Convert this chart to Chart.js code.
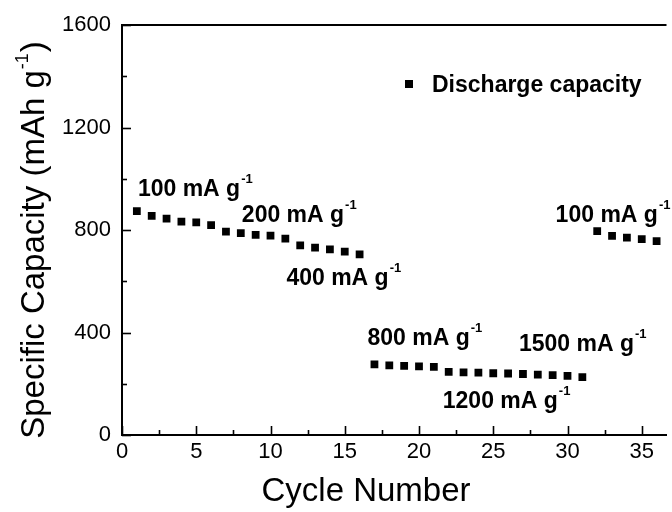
<!DOCTYPE html>
<html>
<head>
<meta charset="utf-8">
<script src="https://cdn.jsdelivr.net/npm/chart.js@4.4.1/dist/chart.umd.min.js"></script>
<style>
  html, body { margin: 0; padding: 0; background: #fff; overflow: hidden; }
  #wrap { width: 672px; height: 512px; }
</style>
</head>
<body>
<div id="wrap"><canvas id="rate" width="672" height="512"></canvas></div>
<script>
// cycle number and discharge capacity (mAh/g)
var cycles = [1, 2, 3, 4, 5, 6, 7, 8, 9, 10, 11, 12, 13, 14, 15, 16,
              17, 18, 19, 20, 21, 22, 23, 24, 25, 26, 27, 28, 29, 30, 31,
              32, 33, 34, 35, 36];
var capacity = [874, 855, 844, 833, 830, 819, 794, 788, 781, 778, 766, 740, 731, 724, 716, 705,
                276, 272, 270, 268, 266, 246, 244, 243, 241, 240, 238, 236, 234, 231, 226,
                796, 777, 770, 764, 757];
var xTicks = [0, 5, 10, 15, 20, 25, 30, 35];
var yTicks = [0, 400, 800, 1200, 1600];
var seriesName = "Discharge capacity";

// current-density labels: text, cycle/capacity anchor (left, baseline)
var rateLabels = ["100 mA g", "200 mA g", "400 mA g", "800 mA g", "1500 mA g", "1200 mA g", "100 mA g"];
var rateX = [1.07, 8.07, 11.07, 16.53, 26.73, 21.6, 29.2];
var rateY = [934, 830, 584, 351, 327, 105, 830];

var FONT = "'Liberation Sans', Arial, Helvetica, sans-serif";

var points = cycles.map(function (c, i) { return { x: c, y: capacity[i] }; });

var decor = {
  id: 'decor',
  afterDraw: function (chart) {
    var ctx = chart.ctx, a = chart.chartArea;
    var xs = chart.scales.x, ys = chart.scales.y;
    ctx.save();
    ctx.strokeStyle = '#000';
    ctx.lineWidth = 2;
    // top frame line
    ctx.beginPath();
    ctx.moveTo(a.left - 1, a.top);
    ctx.lineTo(a.right, a.top);
    ctx.stroke();
    // inward ticks, major + minor
    ctx.lineWidth = 1.6;
    for (var v = 0; v <= xs.max; v += 2.5) {
      var px = Math.round(xs.getPixelForValue(v)) + 0.5;
      var len = (v % 5 === 0) ? 9 : 5;
      ctx.beginPath();
      ctx.moveTo(px, a.bottom);
      ctx.lineTo(px, a.bottom - len);
      ctx.stroke();
    }
    for (var w = 0; w <= ys.max; w += 200) {
      var py = Math.round(ys.getPixelForValue(w)) + 0.5;
      var l2 = (w % 400 === 0) ? 9 : 5;
      ctx.beginPath();
      ctx.moveTo(a.left, py);
      ctx.lineTo(a.left + l2, py);
      ctx.stroke();
    }
    ctx.restore();

    // rate annotations with superscript -1
    ctx.save();
    ctx.fillStyle = '#000';
    ctx.textBaseline = 'alphabetic';
    ctx.textAlign = 'left';
    rateLabels.forEach(function (t, i) {
      var x = xs.getPixelForValue(rateX[i]);
      var y = ys.getPixelForValue(rateY[i]);
      ctx.font = 'bold 23px ' + FONT;
      ctx.fillText(t, x, y);
      var wdt = ctx.measureText(t).width;
      ctx.font = 'bold 13px ' + FONT;
      ctx.fillText('-1', x + wdt + 1, y - 13);
    });

    // legend
    ctx.fillRect(405, 80, 8, 8);
    ctx.font = 'bold 23px ' + FONT;
    ctx.fillText(seriesName, 432, 92);

    // x axis title
    ctx.font = '33px ' + FONT;
    ctx.textAlign = 'center';
    ctx.fillText('Cycle Number', 366, 501);
    ctx.textAlign = 'left';

    // y axis title
    ctx.translate(44, 240);
    ctx.rotate(-Math.PI / 2);
    var main = 'Specific Capacity (mAh g', sup = '-1', close = ')';
    ctx.font = '33px ' + FONT;
    var w1 = ctx.measureText(main).width, w3 = ctx.measureText(close).width;
    ctx.font = '18px ' + FONT;
    var w2 = ctx.measureText(sup).width;
    var x0 = -(w1 + w2 + w3 + 2) / 2;
    ctx.font = '33px ' + FONT;
    ctx.fillText(main, x0, 0);
    ctx.font = '18px ' + FONT;
    ctx.fillText(sup, x0 + w1 + 1, -16);
    ctx.font = '33px ' + FONT;
    ctx.fillText(close, x0 + w1 + w2 + 2, 0);
    ctx.restore();
  }
};

new Chart(document.getElementById('rate'), {
  type: 'scatter',
  data: {
    datasets: [{
      label: seriesName,
      data: points,
      pointStyle: 'rect',
      pointRadius: 5.5,
      pointHoverRadius: 5.5,
      backgroundColor: '#000',
      borderColor: '#000',
      borderWidth: 0,
      showLine: false
    }]
  },
  options: {
    responsive: false,
    animation: false,
    devicePixelRatio: 1,
    layout: { padding: { left: 0, right: 0, top: 25, bottom: 0 } },
    plugins: { legend: { display: false }, tooltip: { enabled: false } },
    scales: {
      x: {
        type: 'linear',
        min: 0,
        max: 550 / 15,
        afterBuildTicks: function (s) { s.ticks = xTicks.map(function (v) { return { value: v }; }); },
        afterFit: function (s) { s.height = 77; },
        grid: { display: true, drawOnChartArea: false, drawTicks: false },
        border: { display: true, color: '#000', width: 2 },
        ticks: { color: '#000', padding: 4, maxRotation: 0, font: { family: FONT, size: 22 },
                 callback: function (v) { return String(v); } }
      },
      y: {
        type: 'linear',
        min: 0,
        max: 1600,
        afterBuildTicks: function (s) { s.ticks = yTicks.map(function (v) { return { value: v }; }); },
        afterFit: function (s) { s.width = 122; },
        grid: { display: true, drawOnChartArea: false, drawTicks: false },
        border: { display: true, color: '#000', width: 2 },
        ticks: { color: '#000', padding: 11, font: { family: FONT, size: 22 },
                 callback: function (v) { return String(v); } }
      }
    }
  },
  plugins: [decor]
});
</script>
</body>
</html>
